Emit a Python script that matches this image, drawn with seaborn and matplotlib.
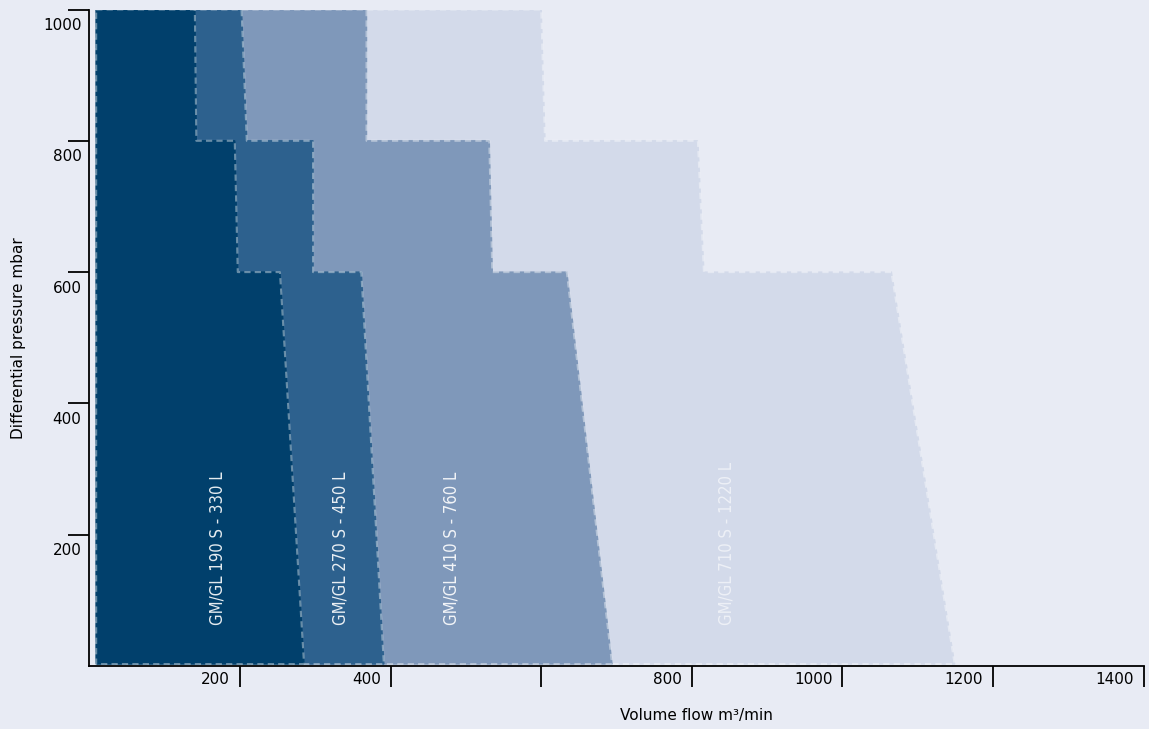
import matplotlib
matplotlib.use("Agg")
import matplotlib.pyplot as plt
import matplotlib.transforms as mtransforms
import seaborn as sns
import pandas as pd

# ---- data -------------------------------------------------------------
models = ["GM/GL 190 S - 330 L", "GM/GL 270 S - 450 L",
          "GM/GL 410 S - 760 L", "GM/GL 710 S - 1220 L"]
flow_min = 9  # left edge of all operating ranges (m³/min)
pressure_steps = [1000, 800, 800, 600, 600, 3]   # mbar, along the right edge
flow_190 = [140, 142, 193, 197, 253, 285]
flow_270 = [202, 209, 297, 297, 361, 391]
flow_410 = [368, 368, 531, 535, 634, 694]
flow_710 = [600, 605, 808, 816, 1065, 1149]
label_flow = [170, 333, 481, 846]
label_pressure = 62

x_ticks = [200, 400, 600, 800, 1000, 1200, 1400]
x_tick_labels = ["200", "400", "", "800", "1000", "1200", "1400"]
y_ticks = [200, 400, 600, 800, 1000]
y_tick_labels = ["200", "400", "600", "800", "1000"]

colors = ["#01406c", "#2d618e", "#7f98ba", "#d3daea"]
label_alpha = [0.9, 0.9, 0.9, 0.6]
bg = "#e8ebf4"

# ---- figure -----------------------------------------------------------
sns.set_theme(style="ticks", rc={"axes.facecolor": bg, "figure.facecolor": bg})
plt.rcParams["font.family"] = ["DejaVu Sans"]

fig = plt.figure(figsize=(11.49, 7.29), dpi=100)
ax = fig.add_axes([89.4 / 1149, 1 - 666 / 729, 1054.3 / 1149, 656.5 / 729])

series = [flow_190, flow_270, flow_410, flow_710]
rows = []
for m, fl in zip(models, series):
    xs = [flow_min] + fl + [flow_min, flow_min]
    ys = [pressure_steps[0]] + pressure_steps + [pressure_steps[-1], pressure_steps[0]]
    for i, (x, y) in enumerate(zip(xs, ys)):
        rows.append({"model": m, "order": i, "flow": x, "pressure": y})
df = pd.DataFrame(rows)

# draw from largest (back) to smallest (front)
for idx in [3, 2, 1, 0]:
    sub = df[df["model"] == models[idx]]
    ax.fill(sub["flow"], sub["pressure"], color=colors[idx], zorder=2 + (3 - idx))
    sns.lineplot(data=sub, x="flow", y="pressure", sort=False, estimator=None,
                 ax=ax, color="white", alpha=0.4, lw=1.5,
                 linestyle=(0, (3, 2)), zorder=2.5 + (3 - idx))

for idx in range(4):
    ax.text(label_flow[idx], label_pressure, models[idx], rotation=90,
            ha="center", va="bottom", color="white", alpha=label_alpha[idx],
            fontsize=12, family=["DejaVu Sans"], fontstretch="condensed",
            zorder=10)

ax.set_xlim(0, 1400)
ax.set_ylim(0, 1000)
sns.despine(ax=ax)
for s in ["left", "bottom"]:
    ax.spines[s].set_color("black")
    ax.spines[s].set_linewidth(1.3)
    ax.spines[s].set_zorder(20)

ax.set_xticks(x_ticks)
ax.set_xticklabels(x_tick_labels)
ax.set_yticks(y_ticks)
ax.set_yticklabels(y_tick_labels)
ax.tick_params(axis="both", length=15, width=1.3, color="black",
               labelsize=11, labelcolor="black")
ax.tick_params(axis="x", pad=-5)
ax.tick_params(axis="y", pad=-9.4)

dx = mtransforms.ScaledTranslation(-10 / 100, 0, fig.dpi_scale_trans)
for lab in ax.get_xticklabels():
    lab.set_ha("right")
    lab.set_va("center")
    lab.set_transform(lab.get_transform() + dx)
dy = mtransforms.ScaledTranslation(0, -16 / 100, fig.dpi_scale_trans)
for lab in ax.get_yticklabels():
    lab.set_va("center")
    lab.set_transform(lab.get_transform() + dy)

ax.set_xlabel("Volume flow m³/min", fontsize=11, va="center", color="black")
ax.xaxis.set_label_coords(0.576, -0.076)
ax.set_ylabel("Differential pressure mbar", fontsize=11, va="center", color="black")
ax.yaxis.set_label_coords(-0.0677, 0.5)

fig.savefig("out.png", dpi=100, facecolor=bg)
